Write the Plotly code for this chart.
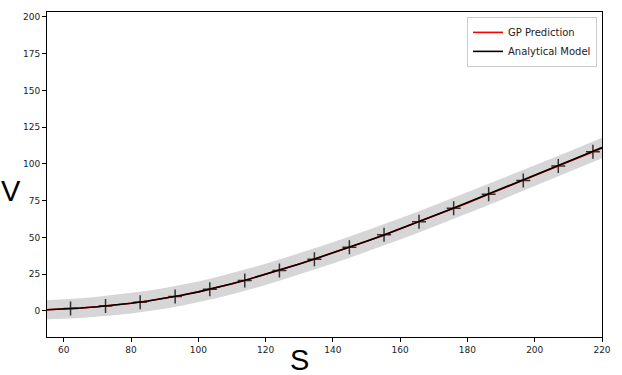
import plotly.graph_objects as go

# Curve grid (S) and values
s_grid = [55, 60, 65, 70, 75, 80, 85, 90, 95, 100, 105, 110, 115, 120, 125, 130,
          135, 140, 145, 150, 155, 160, 165, 170, 175, 180, 185, 190, 195, 200,
          205, 210, 215, 220]
analytical = [0.8, 1.3, 2.0, 2.9, 4.0, 5.3, 6.8, 8.6, 10.7, 13.0, 15.6, 18.5, 21.6,
              24.9, 28.4, 32.0, 35.7, 39.5, 43.4, 47.4, 51.5, 55.8, 60.1, 64.6,
              69.1, 73.7, 78.3, 83.0, 87.6, 92.3, 97.0, 101.7, 106.4, 111.1]
gp_pred = [0.8, 1.3, 2.0, 2.9, 4.0, 5.3, 6.8, 8.6, 10.7, 13.0, 15.6, 18.5, 21.6,
           24.9, 28.4, 32.0, 35.7, 39.5, 43.4, 47.4, 51.5, 55.8, 60.1, 64.5,
           69.0, 73.5, 78.1, 82.7, 87.2, 91.8, 96.5, 101.2, 106.0, 110.8]
gp_band = [6.5, 6.6, 6.7, 6.8, 6.9, 7.0, 7.0, 7.1, 7.1, 7.1, 7.1, 7.2, 7.2, 7.2,
           7.2, 7.2, 7.2, 7.2, 7.2, 7.2, 7.2, 7.2, 7.2, 7.2, 7.2, 7.2, 7.2, 7.2,
           7.1, 7.1, 7.1, 7.0, 7.0, 7.0]

# Training points
train_s = [62.0, 72.4, 82.7, 93.1, 103.4, 113.8, 124.1, 134.5, 144.9, 155.2,
           165.6, 175.9, 186.3, 196.6, 207.0, 217.3]
train_v = [1.6, 3.3, 5.9, 9.8, 14.8, 20.8, 27.6, 35.1, 43.4, 51.8, 60.6, 69.9,
           79.4, 88.7, 98.6, 108.3]

x_ticks = [60, 80, 100, 120, 140, 160, 180, 200, 220]
y_ticks = [0, 25, 50, 75, 100, 125, 150, 175, 200]

upper = [m + b for m, b in zip(gp_pred, gp_band)]
lower = [m - b for m, b in zip(gp_pred, gp_band)]

fig = go.Figure()
fig.add_trace(go.Scatter(x=s_grid + s_grid[::-1], y=upper + lower[::-1],
                         fill="toself", fillcolor="#d6d6d6",
                         line=dict(width=0), mode="lines",
                         hoverinfo="skip", showlegend=False))
fig.add_trace(go.Scatter(x=train_s, y=train_v, mode="markers",
                         marker=dict(symbol="cross-thin", size=10,
                                     line=dict(width=1.5, color="#333333")),
                         showlegend=False))
fig.add_trace(go.Scatter(x=s_grid, y=gp_pred, mode="lines", name="GP Prediction",
                         line=dict(color="red", width=1.6)))
fig.add_trace(go.Scatter(x=s_grid, y=analytical, mode="lines", name="Analytical Model",
                         line=dict(color="black", width=1.6)))

axis_common = dict(showline=True, mirror=True, linecolor="black", linewidth=1,
                   ticks="outside", ticklen=4, tickcolor="black", showgrid=False,
                   zeroline=False,
                   tickfont=dict(family="DejaVu Sans", size=9, color="#222222"))

fig.update_layout(
    width=622, height=375,
    margin=dict(l=47, r=17, t=11, b=38),
    plot_bgcolor="white", paper_bgcolor="white",
    xaxis=dict(range=[55, 220], tickvals=x_ticks, **axis_common),
    yaxis=dict(range=[-17.7, 203.3], tickvals=y_ticks, **axis_common),
    legend=dict(x=0.991, y=0.985, xanchor="right", yanchor="top",
                bgcolor="white", bordercolor="#cccccc", borderwidth=1,
                font=dict(family="DejaVu Sans", size=10, color="#222222"),
                tracegroupgap=0, itemwidth=30),
    annotations=[
        dict(text="V", xref="paper", yref="paper", x=-0.064, y=0.45,
             xanchor="center", yanchor="middle", showarrow=False,
             font=dict(family="Liberation Sans", size=29, color="black")),
        dict(text="S", xref="paper", yref="paper", x=0.455, y=-0.07,
             xanchor="center", yanchor="middle", showarrow=False,
             font=dict(family="Liberation Sans", size=29, color="black")),
    ],
)

fig.write_html("out.html")
